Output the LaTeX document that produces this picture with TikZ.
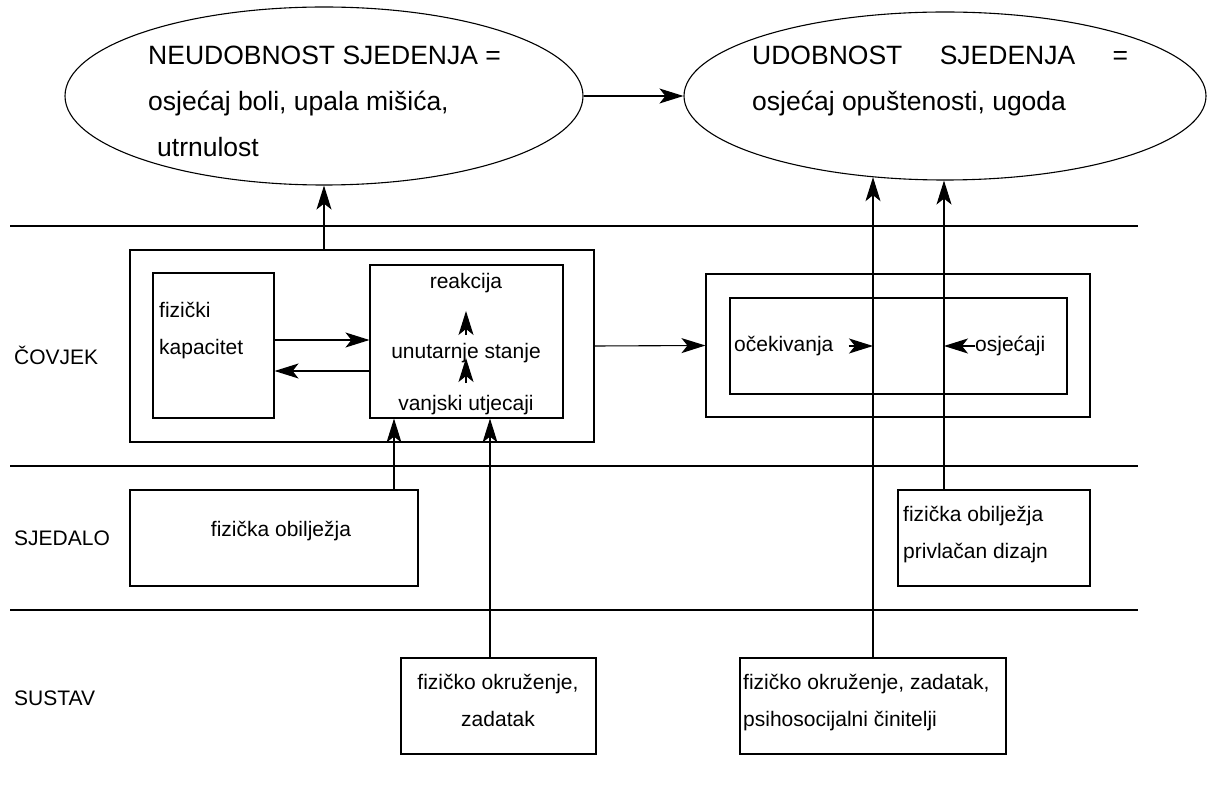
\documentclass[tikz,border=0pt]{standalone}
\usepackage{fontspec}
\setmainfont{Liberation Sans}
\usetikzlibrary{arrows.meta,shapes.geometric}

\begin{document}
\begin{tikzpicture}
[x=1pt,y=-1pt,
  linedecorate/.style={-,line width=1.1pt},
  arrowdecorate/.style={-{Stealth[length=24pt,width=15pt,inset=6pt]},line width=1.1pt},
  boxdecorate/.style={shape=rectangle,draw,line width=1.1pt,inner sep=0pt},
  ovaldecorate/.style={shape=ellipse,draw,line width=1.1pt,inner sep=0pt},
  smalltext/.style={inner sep=0pt,font=\fontsize{21}{37}\selectfont},
  bigtext/.style={inner sep=0pt,align=left,font=\fontsize{26.5}{46}\selectfont}]
\useasboundingbox (0,0) rectangle (1208,799);
%%
%% Layers
\foreach \y in {226,466,610}
  \draw[linedecorate] (10,\y) -- (1138,\y);
\foreach \nodename/\y/\txt in {covjek/355/ČOVJEK, sjedalo/538/SJEDALO, sustav/698/SUSTAV}
{
  \node (\nodename) at (14,\y) [smalltext,anchor=west] {\txt};
}
%%
%% Outcomes
\node (neudob) at (324,96) [ovaldecorate,minimum width=518pt,minimum height=178pt] {};
\node (udob) at (945,96) [ovaldecorate,minimum width=522pt,minimum height=168pt] {};
\node (neudobtxt) at (148,45.5) [bigtext,anchor=north west]
  {NEUDOBNOST SJEDENJA =\\osjećaj boli, upala mišića,\\\hspace*{9pt}utrnulost};
\node (udobtxt) at (752,45.5) [bigtext,anchor=north west]
  {\makebox[376pt][s]{UDOBNOST SJEDENJA =}\\osjećaj opuštenosti, ugoda};
%%
%% Boxes
\foreach \nodename/\x/\y/\w/\h in {
  covjekL/362/346/464/192, kapbox/213.5/345.5/121/145, stanje/466.5/341.5/193/153,
  covjekR/898/345.5/384/143, ocekbox/898.5/346/337/96,
  sjedL/274/538/288/96, sjedR/994/538/192/96,
  sustA/498.5/706/195/96, sustB/873/706/266/96}
{
  \node (\nodename) at (\x,\y) [boxdecorate,minimum width=\w pt,minimum height=\h pt] {};
}
\node (kaptxt) at (159,302.5) [smalltext,anchor=north west,align=left] {fizički\\kapacitet};
\node (reakcija) at (466,283) [smalltext] {reakcija};
\node (unutarnje) at (466,353) [smalltext] {unutarnje stanje};
\node (vanjski) at (466,405) [smalltext] {vanjski utjecaji};
\node (ocek) at (734,346) [smalltext,anchor=west] {očekivanja};
\node (osjec) at (975,346) [smalltext,anchor=west] {osjećaji};
\node (sjedLtxt) at (281,531) [smalltext] {fizička obilježja};
\node (sjedRtxt) at (903,506.5) [smalltext,anchor=north west,align=left]
  {fizička obilježja\\privlačan dizajn};
\node (sustAtxt) at (498,674.5) [smalltext,anchor=north,align=center]
  {fizičko okruženje,\\zadatak};
\node (sustBtxt) at (743,674.5) [smalltext,anchor=north west,align=left]
  {fizičko okruženje, zadatak,\\psihosocijalni činitelji};
%%
%% Connectors
\coordinate (kapout) at ([yshift=5.5pt]kapbox.east);
\coordinate (kapin) at ([yshift=-25.5pt]kapbox.east);
\coordinate (sjedLout) at ([xshift=120pt]sjedL.north);
\coordinate (sustAout) at ([xshift=-8.5pt]sustA.north);
\coordinate (sjedRout) at ([xshift=-50pt]sjedR.north);
\draw[arrowdecorate] (covjekL.north -| neudob.south) -- (neudob.south);
\draw[arrowdecorate] (neudob.east) -- (udob.west);
\draw[arrowdecorate] (covjekL.east) -- (covjekR.west);
\draw[arrowdecorate] (kapout) -- (kapout -| stanje.west);
\draw[arrowdecorate] (kapin -| stanje.west) -- (kapin);
\draw[arrowdecorate,shorten <=12pt,shorten >=-5pt] (vanjski.north) -- (unutarnje.south);
\draw[arrowdecorate,shorten <=8pt,shorten >=18pt] (unutarnje.north) -- (reakcija.south);
\draw[arrowdecorate] (sjedLout) -- (sjedLout |- stanje.south);
\draw[arrowdecorate] (sustAout) -- (sustAout |- stanje.south);
\draw[arrowdecorate] (sustB.north) -- (sustB.north |- udob.228);
\draw[arrowdecorate] (sjedRout) -- (sjedRout |- udob.south);
\draw[arrowdecorate,shorten <=15pt] (ocek.east) -- (ocek.east -| sustB.north);
\draw[arrowdecorate] (osjec.west) -- (osjec.west -| sjedRout);
\end{tikzpicture}
\end{document}
